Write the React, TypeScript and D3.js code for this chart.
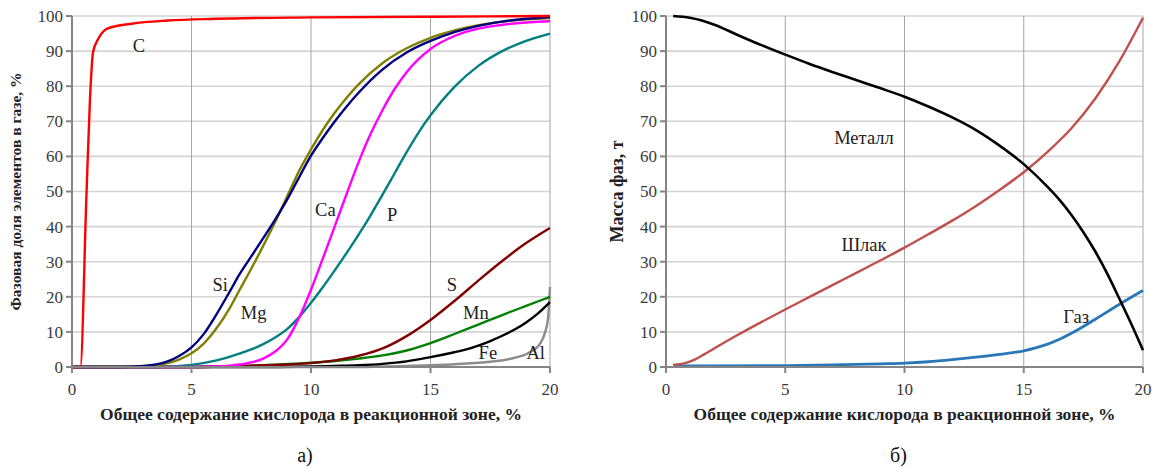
import React from "react";
import * as d3 from "d3";

// ---------- Data (left chart a) ----------
const xTicks = [0, 5, 10, 15, 20];
const yTicks = [0, 10, 20, 30, 40, 50, 60, 70, 80, 90, 100];

const C: [number, number][] = [[0, 0], [0.35, 0], [0.6, 48], [0.75, 76], [0.88, 89.7], [1.1, 93.5], [1.5, 96.5], [2.5, 97.8], [4, 98.7], [6, 99.2], [10, 99.6], [15, 99.8], [20, 100]];
const SI: [number, number][] = [[0, 0], [2, 0], [3, 0.3], [4, 1.6], [4.5, 3.2], [5, 5.6], [5.5, 9.3], [6, 14.5], [6.6, 21.5], [7, 26.3], [7.5, 31.5], [8, 36.7], [8.5, 42], [9, 47.7], [9.5, 54], [10, 60.2], [10.5, 65.3], [11, 70], [11.5, 74.3], [12, 78.2], [13, 84.8], [14, 89.6], [15, 92.9], [16, 95.4], [17, 97.2], [18, 98.4], [20, 99.7]];
const MG: [number, number][] = [[0, 0], [2, 0], [3, 0.2], [4, 1.1], [4.5, 2.2], [5, 3.9], [5.5, 6.6], [6, 10.6], [6.6, 16.8], [7, 21.8], [7.5, 28], [8, 34.5], [8.5, 41.3], [9, 48.6], [9.5, 55.8], [10, 62], [10.5, 67.6], [11, 72.5], [11.5, 76.8], [12, 80.6], [13, 86.6], [14, 90.8], [15, 93.8], [16, 95.9], [17, 97.4], [18, 98.4], [20, 99.4]];
const CA: [number, number][] = [[0, 0], [5, 0], [6.5, 0.3], [7, 0.7], [7.5, 1.3], [8, 2.4], [8.5, 4.4], [9, 7.8], [9.5, 14], [10, 22], [10.5, 31], [11, 40.2], [11.5, 49.5], [12, 58.5], [12.5, 66.5], [13, 73.3], [13.5, 79.2], [14, 84], [15, 90.6], [16, 94.3], [17, 96.4], [18, 97.5], [20, 98.5]];
const P: [number, number][] = [[0, 0], [3.5, 0], [5, 0.6], [6, 1.8], [7, 3.8], [7.5, 5], [8, 6.5], [8.5, 8.4], [9, 10.8], [9.5, 14.2], [10, 18.3], [10.5, 22.8], [11, 27.6], [11.5, 32.6], [12, 37.8], [12.5, 43.3], [13, 49.2], [13.5, 55.2], [14, 61.2], [14.5, 66.8], [15, 71.7], [16, 79.8], [17, 85.8], [18, 90], [19, 92.9], [20, 95]];
const S: [number, number][] = [[0, 0], [5, 0], [7, 0.3], [9, 0.7], [10, 1.1], [11, 1.9], [12, 3.2], [13, 5.3], [14, 8.8], [15, 13.4], [16, 18.8], [17, 24.6], [18, 30.2], [19, 35.3], [20, 39.6]];
const MN: [number, number][] = [[0, 0], [5, 0], [8, 0.5], [10, 1.2], [11, 1.7], [12, 2.4], [13, 3.3], [14, 4.7], [15, 6.8], [16, 9.4], [17, 12.1], [18, 14.8], [19, 17.4], [20, 20]];
const FE: [number, number][] = [[0, 0], [8, 0], [11, 0.3], [12, 0.5], [13, 0.9], [14, 1.6], [15, 2.8], [16, 4.2], [16.5, 5], [17, 6.1], [17.5, 7.4], [18, 8.9], [18.5, 10.6], [19, 12.7], [19.5, 15.3], [20, 18.5]];
const AL: [number, number][] = [[0, 0], [12, 0], [14, 0.3], [16, 0.8], [17.5, 1.5], [18.45, 2.5], [19.1, 4], [19.6, 6.8], [19.8, 10], [19.92, 14], [20, 22.8]];

// ---------- Data (right chart б) ----------
const METAL: [number, number][] = [[0.3, 100], [1, 99.5], [2, 97.6], [3, 94.6], [4, 91.7], [5, 89], [6, 86.4], [7, 84], [8, 81.7], [9, 79.4], [10, 77], [11, 74.2], [12, 71.1], [13, 67.5], [14, 63], [15, 57.8], [16, 51.3], [16.5, 47.6], [17, 43.3], [17.5, 38.4], [18, 32.9], [18.5, 26.6], [19, 19.6], [19.5, 12.4], [20, 4.8]];
const SLAG: [number, number][] = [[0.3, 0.6], [0.8, 1.1], [1.2, 2.1], [1.6, 3.6], [2, 5.2], [3, 9.1], [4, 12.8], [5, 16.4], [6, 19.9], [7, 23.4], [8, 26.9], [9, 30.4], [10, 34], [11, 37.8], [12, 41.7], [13, 45.9], [14, 50.5], [15, 55.5], [16, 61.3], [17, 68], [18, 76.5], [19, 87], [20, 99.5]];
const GAS: [number, number][] = [[0.3, 0.3], [2, 0.3], [5, 0.4], [7, 0.6], [9, 0.9], [10, 1.1], [11, 1.5], [12, 2.1], [13, 2.8], [14, 3.6], [15, 4.6], [16, 6.5], [16.5, 7.9], [17, 9.6], [18, 13.6], [19, 17.8], [20, 21.8]];

type Series = { data: [number, number][]; color: string; width?: number };
type Label = { text: string; x: number; y: number };

const leftSeries: Series[] = [
  { data: AL, color: "#8c8c8c" },
  { data: FE, color: "#000000" },
  { data: MN, color: "#008000" },
  { data: S, color: "#800000" },
  { data: P, color: "#008080" },
  { data: CA, color: "#ff00ff" },
  { data: MG, color: "#808000" },
  { data: SI, color: "#000080" },
  { data: C, color: "#ff0000" },
];
const leftLabels: Label[] = [
  { text: "C", x: 2.8, y: 91.5 },
  { text: "Si", x: 6.2, y: 23.5 },
  { text: "Mg", x: 7.6, y: 15.5 },
  { text: "Ca", x: 10.6, y: 45 },
  { text: "P", x: 13.4, y: 43.5 },
  { text: "S", x: 15.9, y: 23.5 },
  { text: "Mn", x: 16.9, y: 15.5 },
  { text: "Fe", x: 17.4, y: 4 },
  { text: "Al", x: 19.4, y: 4 },
];
const rightSeries: Series[] = [
  { data: GAS, color: "#2a77b8", width: 2.8 },
  { data: SLAG, color: "#c0504d", width: 2.4 },
  { data: METAL, color: "#000000", width: 2.6 },
];
const rightLabels: Label[] = [
  { text: "Металл", x: 8.3, y: 65.5 },
  { text: "Шлак", x: 8.3, y: 35 },
  { text: "Газ", x: 17.2, y: 14.5 },
];

const SERIF = "'Liberation Serif', 'Times New Roman', 'DejaVu Serif', serif";

function Panel(props: {
  left: number;
  width: number;
  series: Series[];
  labels: Label[];
  yTitle: string;
  yTitleX: number;
  yTitleSize: number;
  caption: string;
}) {
  const { left, width, series, labels, yTitle, yTitleX, yTitleSize, caption } = props;
  const top = 16;
  const bottom = 367;
  const x = d3.scaleLinear().domain([0, 20]).range([left, left + width]);
  const y = d3.scaleLinear().domain([0, 100]).range([bottom, top]);
  const line = d3
    .line<[number, number]>()
    .x((d) => x(d[0]))
    .y((d) => y(d[1]))
    .curve(d3.curveMonotoneX);
  const cx = left + width / 2;
  return (
    <g>
      {yTicks.filter((t) => t > 0).map((t) => (
        <line key={"h" + t} x1={x(0)} x2={x(20)} y1={y(t)} y2={y(t)} stroke="#d4d4d4" strokeWidth={1.6} />
      ))}
      {xTicks.filter((t) => t > 0).map((t) => (
        <line key={"v" + t} x1={x(t)} x2={x(t)} y1={y(0)} y2={y(100)} stroke="#a6a6a6" strokeWidth={1} />
      ))}
      {series.map((s, i) => (
        <path key={i} d={line(s.data) || ""} fill="none" stroke={s.color} strokeWidth={s.width ?? 2.4} strokeLinejoin="round" />
      ))}
      <line x1={x(0)} x2={x(0)} y1={y(0) + 1} y2={y(100)} stroke="#858585" strokeWidth={2} />
      <line x1={x(0)} x2={x(20)} y1={y(0)} y2={y(0)} stroke="#858585" strokeWidth={2} />
      {yTicks.map((t) => (
        <g key={"yt" + t}>
          <line x1={x(0) - 6} x2={x(0)} y1={y(t)} y2={y(t)} stroke="#858585" strokeWidth={2} />
          <text x={x(0) - 9} y={y(t)} dy="0.35em" textAnchor="end" fontFamily={SERIF} fontSize={17} fill="#3a3a3a">
            {t}
          </text>
        </g>
      ))}
      {xTicks.map((t) => (
        <g key={"xt" + t}>
          <line x1={x(t)} x2={x(t)} y1={y(0)} y2={y(0) + 6} stroke="#858585" strokeWidth={2} />
          <text x={x(t)} y={389} dy="0.35em" textAnchor="middle" fontFamily={SERIF} fontSize={17} fill="#3a3a3a">
            {t}
          </text>
        </g>
      ))}
      {labels.map((l) => (
        <text key={l.text} x={x(l.x)} y={y(l.y)} dy="0.35em" textAnchor="middle" fontFamily={SERIF} fontSize={18.5} fill="#222">
          {l.text}
        </text>
      ))}
      <text x={cx} y={414} dy="0.35em" textAnchor="middle" fontFamily={SERIF} fontSize={17.5} fontWeight="bold" fill="#222">
        Общее содержание кислорода в реакционной зоне, %
      </text>
      <text
        transform={`translate(${yTitleX},${(top + bottom) / 2}) rotate(-90)`}
        dy="0.35em"
        textAnchor="middle"
        fontFamily={SERIF}
        fontSize={yTitleSize}
        fontWeight="bold"
        fill="#222"
      >
        {yTitle}
      </text>
      <text x={cx - 6} y={455} dy="0.35em" textAnchor="middle" fontFamily={SERIF} fontSize={20} fill="#111">
        {caption}
      </text>
    </g>
  );
}

export default function App() {
  return (
    <svg width={1155} height={467} style={{ position: "absolute", left: 0, top: 0, background: "#fff" }}>
      <rect width={1155} height={467} fill="#fff" />
      <Panel left={72} width={478} series={leftSeries} labels={leftLabels} yTitle="Фазовая доля элементов в газе, %" yTitleX={16} yTitleSize={15.5} caption="а)" />
      <Panel left={666} width={477} series={rightSeries} labels={rightLabels} yTitle="Масса фаз, т" yTitleX={617} yTitleSize={18} caption="б)" />
    </svg>
  );
}
